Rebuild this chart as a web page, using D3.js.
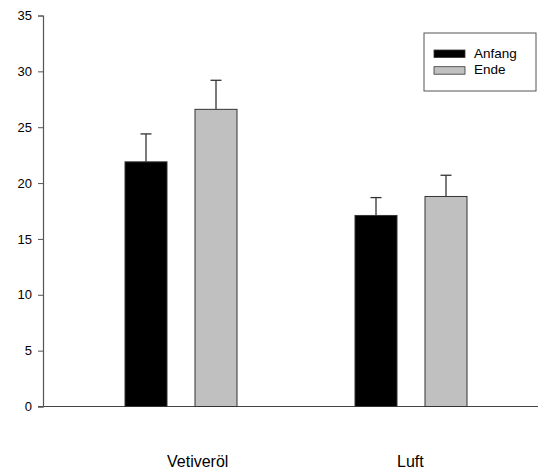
<!DOCTYPE html>
<html lang="de">
<head>
<meta charset="utf-8">
<title>Anfang / Ende</title>
<script src="https://cdn.jsdelivr.net/npm/d3@7"></script>
<style>
  body { margin: 0; background: #fff; }
  text { font-family: "Liberation Sans", Arial, sans-serif; fill: #000; }
</style>
</head>
<body>
<script>
// data
var groups = ["Vetiveröl", "Luft"];
var series = ["Anfang", "Ende"];
var colors = ["#000000", "#c0c0c0"];
var means = [[21.9, 26.6], [17.1, 18.8]];
var errors = [[2.5, 2.6], [1.6, 1.9]];
var yTicks = [0, 5, 10, 15, 20, 25, 30, 35];

var width = 538, height = 474;

var svg = d3.select("body").append("svg")
    .attr("width", width)
    .attr("height", height);

var y = d3.scaleLinear().domain([0, 35]).range([406.5, 15.5]);
var x0 = d3.scaleBand().domain(groups).range([66, 526]);
var x1 = d3.scaleBand().domain(series).range([-56, 56]).paddingInner(0.4);

// baseline across the plot
svg.append("line")
    .attr("x1", 38).attr("x2", 538)
    .attr("y1", y(0)).attr("y2", y(0))
    .attr("stroke", "#444").attr("stroke-width", 1.2);

// y axis
var yAxis = d3.axisLeft(y).tickValues(yTicks).tickSize(5).tickPadding(6);
var gy = svg.append("g")
    .attr("transform", "translate(43,0)")
    .call(yAxis);
gy.select(".domain").attr("stroke", "#555").attr("stroke-width", 1.2);
gy.selectAll(".tick line").attr("stroke", "#555");
gy.selectAll(".tick text")
    .attr("font-size", "13px")
    .attr("font-family", "Liberation Sans, Arial, sans-serif");

// bars and error bars
var rows = [];
groups.forEach(function(g, i) {
    series.forEach(function(s, j) {
        rows.push({ group: g, series: s, value: means[i][j], err: errors[i][j], color: colors[j] });
    });
});

var bar = svg.selectAll("g.bar").data(rows).enter().append("g")
    .attr("class", "bar")
    .attr("transform", function(d) { return "translate(" + (x0(d.group) + x0.bandwidth() / 2) + ",0)"; });

// error whisker (only upward)
bar.append("line")
    .attr("x1", function(d) { return x1(d.series) + x1.bandwidth() / 2; })
    .attr("x2", function(d) { return x1(d.series) + x1.bandwidth() / 2; })
    .attr("y1", function(d) { return y(d.value); })
    .attr("y2", function(d) { return y(d.value + d.err); })
    .attr("stroke", "#333").attr("stroke-width", 1.3);
bar.append("line")
    .attr("x1", function(d) { return x1(d.series) + x1.bandwidth() / 2 - 5.5; })
    .attr("x2", function(d) { return x1(d.series) + x1.bandwidth() / 2 + 5.5; })
    .attr("y1", function(d) { return y(d.value + d.err); })
    .attr("y2", function(d) { return y(d.value + d.err); })
    .attr("stroke", "#333").attr("stroke-width", 1.3);

bar.append("rect")
    .attr("x", function(d) { return x1(d.series); })
    .attr("width", x1.bandwidth())
    .attr("y", function(d) { return y(d.value); })
    .attr("height", function(d) { return y(0) - y(d.value); })
    .attr("fill", function(d) { return d.color; })
    .attr("stroke", "#333").attr("stroke-width", 1);

// category labels (left aligned a bit left of the group centre)
svg.selectAll("text.cat").data(groups).enter().append("text")
    .attr("class", "cat")
    .attr("x", function(d) { return x0(d) + x0.bandwidth() / 2 - 14; })
    .attr("y", 467)
    .attr("font-size", "16px")
    .text(function(d) { return d; });

// legend
var legend = svg.append("g").attr("transform", "translate(424,33)");
legend.append("rect")
    .attr("width", 112).attr("height", 58)
    .attr("fill", "#fff").attr("stroke", "#555").attr("stroke-width", 1);
var item = legend.selectAll("g.item").data(series).enter().append("g")
    .attr("class", "item")
    .attr("transform", function(d, i) { return "translate(10," + (17 + i * 16.7) + ")"; });
item.append("rect")
    .attr("width", 31).attr("height", 7.5)
    .attr("fill", function(d, i) { return colors[i]; })
    .attr("stroke", "#333").attr("stroke-width", 0.8);
item.append("text")
    .attr("x", 40).attr("y", 7.5)
    .attr("font-size", "13.5px")
    .text(function(d) { return d; });
</script>
</body>
</html>
